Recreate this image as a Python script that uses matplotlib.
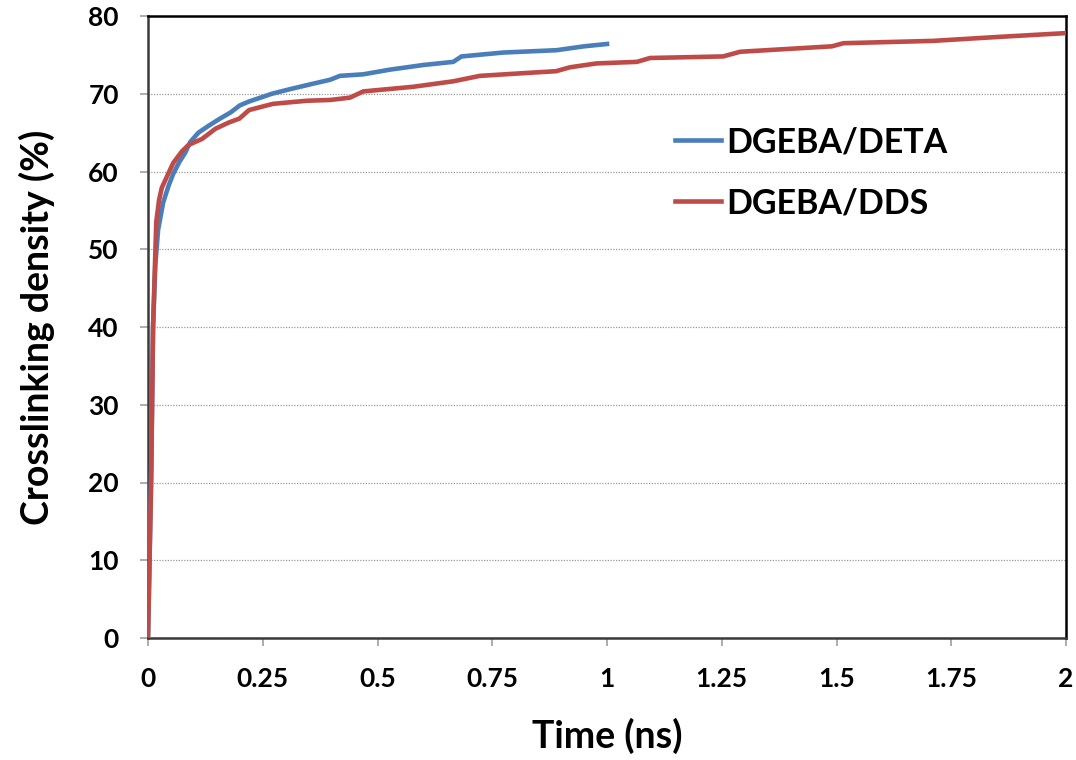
#!/usr/bin/env python3
# -*- coding: utf-8 -*-
"""Crosslinking density vs. time for two epoxy systems."""

import matplotlib
matplotlib.use("Agg")
import matplotlib.pyplot as plt
from matplotlib.ticker import MultipleLocator

# --- Data ---
deta_time = [0, 0.004, 0.007, 0.011, 0.016, 0.022, 0.033, 0.045, 0.055, 0.068,
             0.081, 0.092, 0.11, 0.13, 0.154, 0.18, 0.2, 0.22, 0.25, 0.27,
             0.31, 0.36, 0.397, 0.418, 0.469, 0.527, 0.6, 0.665, 0.683, 0.774,
             0.89, 0.95, 1.0]
deta_density = [0, 12, 22, 40, 48, 52.5, 56, 58.2, 59.7, 61.2,
                62.4, 63.8, 65, 65.8, 66.7, 67.6, 68.5, 69, 69.6, 70,
                70.6, 71.3, 71.8, 72.3, 72.5, 73.1, 73.7, 74.1, 74.8, 75.3,
                75.6, 76.1, 76.4]

dds_time = [0, 0.004, 0.007, 0.011, 0.018, 0.024, 0.03, 0.044, 0.055, 0.074,
            0.088, 0.118, 0.147, 0.176, 0.199, 0.22, 0.272, 0.346, 0.397, 0.44,
            0.469, 0.578, 0.665, 0.723, 0.832, 0.889, 0.919, 0.977, 1.065, 1.094,
            1.253, 1.29, 1.49, 1.515, 1.71, 1.85, 2.0]
dds_density = [0, 12, 20.5, 40, 53.5, 56.3, 57.9, 59.7, 61.1, 62.6,
               63.4, 64.2, 65.5, 66.3, 66.8, 67.9, 68.7, 69.1, 69.2, 69.5,
               70.3, 70.9, 71.6, 72.3, 72.7, 72.9, 73.4, 73.9, 74.1, 74.6,
               74.8, 75.4, 76.1, 76.5, 76.8, 77.3, 77.8]

x_ticks = [0, 0.25, 0.5, 0.75, 1, 1.25, 1.5, 1.75, 2]
x_tick_labels = ["0", "0.25", "0.5", "0.75", "1", "1.25", "1.5", "1.75", "2"]

BLUE = "#4A7EBB"
RED = "#BE4B48"

plt.rcParams["font.family"] = ["Lato", "DejaVu Sans"]
plt.rcParams["font.weight"] = "bold"

fig = plt.figure(figsize=(10.76, 7.60), dpi=100)
ax = fig.add_axes([148 / 1076, 1 - 638 / 760, (1066 - 148) / 1076, (638 - 16) / 760])

ax.plot(deta_time, deta_density, color=BLUE, linewidth=3.3, label="DGEBA/DETA",
        solid_joinstyle="round", zorder=3)
ax.plot(dds_time, dds_density, color=RED, linewidth=3.3, label="DGEBA/DDS",
        solid_joinstyle="round", zorder=3)

ax.set_xlim(0, 2)
ax.set_ylim(0, 80)
ax.set_xticks(x_ticks)
ax.set_xticklabels(x_tick_labels)
ax.yaxis.set_major_locator(MultipleLocator(10))

ax.grid(True, axis="y", linestyle=(0, (1, 1.2)), linewidth=0.9, color="#9a9a9a", zorder=1)

for side in ["top", "right"]:
    ax.spines[side].set_color("black")
    ax.spines[side].set_linewidth(1.8)
for side in ["left", "bottom"]:
    ax.spines[side].set_color("#3a3a3a")
    ax.spines[side].set_linewidth(1.8)

ax.tick_params(axis="both", direction="out", length=6, width=1.2, color="#a0a0a0",
               labelsize=19, pad=15)

ax.set_xlabel("Time (ns)", fontsize=27, fontweight="bold", labelpad=19)
ax.set_ylabel("Crosslinking density (%)", fontsize=27, fontweight="bold", labelpad=24)

leg = ax.legend(loc="upper left", bbox_to_anchor=(0.541, 0.872), frameon=False,
                fontsize=24.5, handlelength=1.35, handletextpad=0.15, labelspacing=0.85)
for line in leg.get_lines():
    line.set_linewidth(3.3)
for text in leg.get_texts():
    text.set_fontweight("bold")

plt.savefig("out.png", dpi=100)
plt.close()
